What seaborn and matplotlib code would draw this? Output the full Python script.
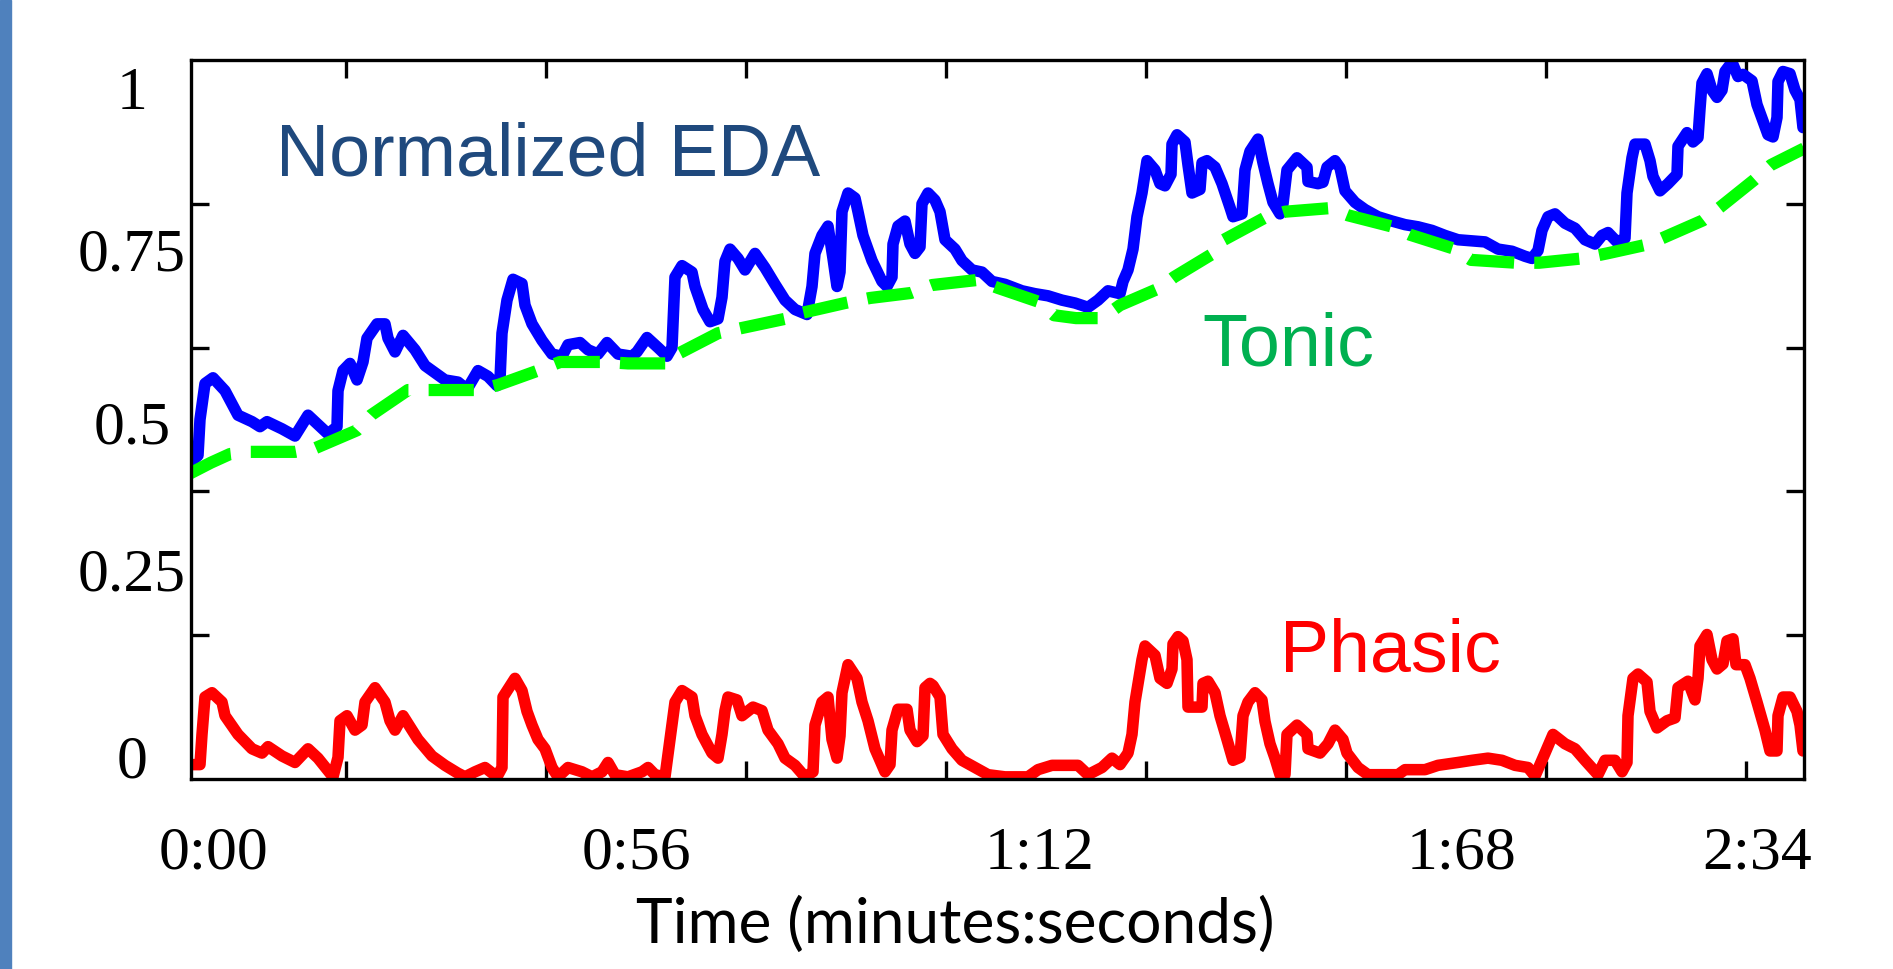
import numpy as np
import pandas as pd
import seaborn as sns
import matplotlib.pyplot as plt
from matplotlib.patches import Rectangle
from matplotlib.ticker import FixedLocator

# Time runs in arbitrary units (one tick mark every 20 units)
eda_t = [-15.6, -14.8, -14.6, -14.1, -13.3, -12.1, -10.8, -9.4, -8.6, -7.9, -6.4, -5.1, -3.8, -2.8, -1.8,
         -0.9, -0.8, -0.3, 0.4, 1.1, 1.7, 2.1, 3.1, 3.9, 4.2, 4.9, 5.7, 6.9, 7.9, 8.9, 9.9, 11.2, 12.1,
         13.2, 14.2, 15.1, 15.4, 15.6, 16.1, 16.7, 17.6, 17.9, 18.6, 19.6, 20.6, 21.6, 22.2, 23.4, 24.2,
         25.2, 26.1, 27.2, 28.6, 29.1, 30.1, 31.2, 32.1, 32.6, 32.9, 33.6, 34.6, 34.9, 35.7, 36.4, 37.2,
         37.6, 37.9, 38.4, 39.2, 39.9, 40.9, 41.9, 42.9, 43.9, 44.9, 46.1, 46.6, 46.9, 47.6, 48.2, 48.7,
         49.1, 49.4, 49.6, 50.2, 50.9, 51.2, 51.7, 52.6, 53.6, 54.1, 54.6, 54.7, 55.2, 55.9, 56.4, 56.9,
         57.4, 57.6, 58.2, 58.9, 59.4, 59.9, 60.9, 61.6, 62.6, 63.6, 64.6, 65.9, 67.6, 68.9, 70.2, 71.6,
         72.9, 74.2, 75.2, 76.2, 77.4, 77.7, 78.2, 78.7, 79.1, 79.6, 80.1, 80.9, 81.4, 81.9, 82.5, 82.6,
         83.1, 83.9, 84.2, 84.6, 85.4, 85.6, 86.1, 86.9, 87.6, 88.4, 88.7, 89.6, 89.9, 90.4, 91.2, 91.7,
         92.2, 92.7, 93.4, 93.7, 94.1, 95.1, 96.1, 96.2, 97.2, 97.7, 98.1, 98.9, 99.4, 99.9, 100.9, 101.9,
         103.2, 104.6, 105.9, 107.2, 108.6, 109.9, 111.2, 113.9, 115.2, 116.6, 117.9, 118.6, 119.2, 119.6,
         120.2, 120.9, 121.9, 122.9, 123.9, 124.9, 125.6, 126.2, 127.1, 127.9, 128.1, 128.6, 128.9, 129.9,
         130.4, 130.7, 131.4, 132.2, 133.1, 133.2, 134.1, 134.7, 135.2, 135.4, 135.6, 136.1, 136.6, 137.1,
         137.6, 137.9, 138.6, 139.2, 139.7, 140.6, 141.1, 141.6, 142.2, 142.7, 143.1, 143.2, 143.7, 144.4,
         144.9, 145.4, 145.7]
eda_v = [0.44, 0.45, 0.50, 0.55, 0.558, 0.54, 0.506, 0.497, 0.49, 0.497, 0.487, 0.477, 0.506, 0.493, 0.48,
         0.49, 0.54, 0.568, 0.578, 0.555, 0.58, 0.613, 0.633, 0.633, 0.613, 0.594, 0.617, 0.597, 0.575,
         0.565, 0.555, 0.552, 0.542, 0.568, 0.56, 0.547, 0.555, 0.62, 0.666, 0.695, 0.689, 0.659, 0.633,
         0.61, 0.591, 0.588, 0.604, 0.607, 0.597, 0.591, 0.607, 0.591, 0.588, 0.594, 0.614, 0.6, 0.588,
         0.6, 0.698, 0.714, 0.705, 0.685, 0.653, 0.636, 0.64, 0.67, 0.72, 0.737, 0.724, 0.708, 0.731,
         0.711, 0.688, 0.666, 0.653, 0.646, 0.685, 0.731, 0.756, 0.769, 0.724, 0.685, 0.705, 0.789, 0.815,
         0.808, 0.789, 0.756, 0.721, 0.692, 0.685, 0.698, 0.744, 0.769, 0.776, 0.744, 0.731, 0.74, 0.80,
         0.815, 0.805, 0.789, 0.75, 0.737, 0.721, 0.708, 0.705, 0.692, 0.688, 0.679, 0.675, 0.672, 0.666,
         0.662, 0.656, 0.666, 0.679, 0.675, 0.692, 0.708, 0.737, 0.782, 0.815, 0.86, 0.847, 0.828, 0.825,
         0.841, 0.883, 0.896, 0.886, 0.854, 0.815, 0.82, 0.857, 0.86, 0.851, 0.828, 0.795, 0.782, 0.786,
         0.847, 0.873, 0.89, 0.857, 0.828, 0.802, 0.786, 0.80, 0.847, 0.864, 0.851, 0.831, 0.828, 0.83,
         0.851, 0.86, 0.85, 0.818, 0.802, 0.792, 0.782, 0.776, 0.771, 0.768, 0.763, 0.756, 0.75, 0.747,
         0.737, 0.734, 0.727, 0.724, 0.735, 0.763, 0.782, 0.786, 0.773, 0.766, 0.75, 0.744, 0.756, 0.76,
         0.747, 0.752, 0.815, 0.864, 0.883, 0.883, 0.86, 0.838, 0.818, 0.828, 0.841, 0.88, 0.899, 0.886,
         0.892, 0.932, 0.968, 0.981, 0.958, 0.948, 0.958, 0.984, 0.997, 0.977, 0.98, 0.971, 0.938, 0.919,
         0.896, 0.893, 0.92, 0.97, 0.984, 0.981, 0.958, 0.945, 0.906]

tonic_t = [-15.6, -13.5, -11.6, -9.7, -5.1, -3.1, 1.1, 2.5, 6.2, 8.7, 13.2, 15.2, 19.4, 21.4, 25.9, 28.2,
           32.6, 33.3, 37.2, 39.5, 43.9, 45.5, 49.9, 52.4, 56.5, 58.6, 63.1, 65.2, 69.2, 70.8, 73.0, 75.6,
           77.4, 81.4, 82.8, 86.6, 87.8, 91.8, 93.9, 98.4, 100.2, 104.7, 106.4, 110.7, 112.5, 117.0, 119.3,
           123.6, 126.1, 130.0, 131.6, 135.7, 137.3, 140.8, 142.5, 145.8]
tonic_v = [0.425, 0.44, 0.452, 0.455, 0.455, 0.46, 0.485, 0.506, 0.541, 0.541, 0.541, 0.548, 0.569, 0.58,
           0.58, 0.578, 0.578, 0.592, 0.62, 0.627, 0.64, 0.648, 0.662, 0.669, 0.676, 0.687, 0.694, 0.683,
           0.664, 0.645, 0.641, 0.641, 0.659, 0.683, 0.698, 0.73, 0.75, 0.78, 0.789, 0.794, 0.784, 0.768,
           0.757, 0.738, 0.722, 0.718, 0.718, 0.724, 0.731, 0.743, 0.752, 0.777, 0.794, 0.833, 0.854, 0.877]

phasic_t = [-15.6, -14.6, -14.4, -14.1, -13.4, -12.4, -12.1, -10.8, -9.4, -8.4, -7.8, -6.4, -5.1, -3.8,
            -2.8, -1.3, -0.8, -0.6, 0.1, 0.9, 1.6, 1.9, 2.9, 3.9, 4.4, 4.9, 5.7, 7.2, 8.6, 9.9, 11.2, 11.9,
            12.9, 13.9, 15.1, 15.6, 15.7, 16.9, 17.6, 18.1, 18.6, 19.2, 19.9, 20.6, 21.2, 22.2, 23.6, 24.6,
            25.6, 26.2, 26.9, 28.2, 29.6, 30.2, 30.9, 31.9, 32.4, 32.9, 33.6, 34.6, 34.9, 35.6, 36.6, 37.2,
            37.6, 37.9, 38.2, 39.1, 39.6, 40.7, 41.6, 42.2, 43.2, 43.9, 44.9, 45.9, 46.7, 46.9, 47.6, 48.2,
            48.6, 49.1, 49.4, 49.6, 50.2, 51.1, 51.6, 52.2, 52.9, 53.9, 54.4, 54.6, 55.2, 56.1, 56.4, 57.1,
            57.7, 57.9, 58.4, 58.7, 59.4, 59.7, 60.6, 61.6, 62.9, 64.2, 65.9, 68.2, 69.2, 70.6, 73.2, 74.2,
            75.6, 76.6, 77.4, 78.2, 78.6, 78.9, 79.6, 79.9, 80.9, 81.4, 82.1, 82.6, 82.7, 83.2, 83.7, 84.1,
            84.2, 85.6, 85.7, 86.2, 86.9, 87.4, 88.1, 88.7, 89.4, 89.7, 90.2, 90.9, 91.6, 91.9, 92.4, 92.9,
            93.4, 93.9, 94.1, 95.1, 96.1, 96.2, 97.4, 98.2, 98.9, 99.7, 100.1, 101.2, 102.2, 105.2, 105.9,
            107.9, 109.2, 111.2, 112.6, 114.2, 115.6, 116.9, 118.2, 118.9, 119.9, 120.7, 121.9, 122.9, 123.9,
            125.2, 125.9, 126.9, 127.6, 128.1, 128.2, 128.7, 129.2, 130.1, 130.4, 131.1, 132.1, 132.9, 133.2,
            134.2, 134.9, 135.2, 135.4, 136.1, 136.6, 137.1, 137.7, 138.1, 138.7, 139.0, 139.9, 140.4, 141.1,
            141.9, 142.4, 143.1, 143.2, 143.7, 144.4, 145.1, 145.4, 145.7]
phasic_v = [0.02, 0.02, 0.062, 0.114, 0.12, 0.107, 0.088, 0.062, 0.042, 0.036, 0.045, 0.032, 0.023, 0.042,
            0.029, 0.003, 0.03, 0.081, 0.088, 0.068, 0.075, 0.107, 0.127, 0.107, 0.081, 0.068, 0.088, 0.055,
            0.032, 0.019, 0.008, 0.003, 0.01, 0.016, 0.003, 0.016, 0.114, 0.14, 0.123, 0.094, 0.075, 0.055,
            0.042, 0.016, 0.003, 0.016, 0.01, 0.003, 0.01, 0.023, 0.006, 0.003, 0.01, 0.016, 0.006, 0.003,
            0.055, 0.107, 0.123, 0.114, 0.088, 0.062, 0.036, 0.029, 0.062, 0.095, 0.114, 0.11, 0.088, 0.1,
            0.095, 0.068, 0.049, 0.029, 0.019, 0.003, 0.01, 0.075, 0.107, 0.114, 0.055, 0.029, 0.06, 0.12,
            0.159, 0.14, 0.107, 0.081, 0.042, 0.01, 0.02, 0.068, 0.097, 0.097, 0.068, 0.052, 0.06, 0.127,
            0.133, 0.13, 0.114, 0.062, 0.042, 0.026, 0.016, 0.006, 0.003, 0.003, 0.013, 0.019, 0.019, 0.006,
            0.016, 0.029, 0.02, 0.036, 0.062, 0.107, 0.166, 0.185, 0.172, 0.14, 0.133, 0.153, 0.188, 0.198,
            0.192, 0.166, 0.1, 0.1, 0.133, 0.136, 0.12, 0.088, 0.055, 0.026, 0.03, 0.088, 0.107, 0.12, 0.11,
            0.08, 0.049, 0.029, 0.006, 0.006, 0.062, 0.075, 0.062, 0.042, 0.036, 0.049, 0.068, 0.055, 0.036,
            0.016, 0.006, 0.006, 0.013, 0.013, 0.019, 0.023, 0.026, 0.029, 0.026, 0.019, 0.016, 0.004, 0.036,
            0.062, 0.049, 0.042, 0.026, 0.006, 0.026, 0.026, 0.01, 0.023, 0.088, 0.14, 0.146, 0.135, 0.094,
            0.071, 0.081, 0.085, 0.127, 0.136, 0.11, 0.14, 0.185, 0.201, 0.166, 0.153, 0.16, 0.192, 0.195,
            0.159, 0.159, 0.14, 0.107, 0.068, 0.039, 0.039, 0.088, 0.114, 0.114, 0.094, 0.075, 0.039]

# tick labels sit a little off the tick marks in the original, so they get their own positions
xlabel_pos = [-13.25, 29.0, 69.3, 111.6, 141.1]
xlabel_text = ["0:00", "0:56", "1:12", "1:68", "2:34"]
ylabel_pos = [0.032, 0.292, 0.496, 0.737, 0.962]
ylabel_text = ["0", "0.25", "0.5", "0.75", "1"]

eda_df = pd.DataFrame({"t": eda_t, "v": eda_v})
tonic_df = pd.DataFrame({"t": tonic_t, "v": tonic_v})
phasic_df = pd.DataFrame({"t": phasic_t, "v": phasic_v})

sns.set_style("white")

fig = plt.figure(figsize=(18.93, 9.69), dpi=100)
ax = fig.add_axes([191 / 1893, 1 - 779 / 969, 1613 / 1893, 719 / 969])

# slide accent bar on the left edge
fig.patches.append(Rectangle((0, 0), 11 / 1893, 1, transform=fig.transFigure,
                             color="#4F81BD", zorder=0))

sns.lineplot(data=eda_df, x="t", y="v", ax=ax, color="#0000FF", linewidth=8.3,
             estimator=None, sort=False, solid_joinstyle="round", solid_capstyle="round")
sns.lineplot(data=phasic_df, x="t", y="v", ax=ax, color="#FF0000", linewidth=8.3,
             estimator=None, sort=False, solid_joinstyle="round", solid_capstyle="round")
sns.lineplot(data=tonic_df, x="t", y="v", ax=ax, color="#00FF00", linewidth=8.8,
             estimator=None, sort=False, linestyle=(0, (3.7, 1.65)), dash_capstyle="butt")

ax.set_xlim(-15.5, 145.8)
ax.set_ylim(0, 1)
ax.set_xlabel("")
ax.set_ylabel("")

# labels (major, no marks) and tick marks (minor, inward, all four sides)
ax.set_xticks(xlabel_pos, xlabel_text, fontfamily="Liberation Serif", fontsize=44.5)
ax.set_yticks(ylabel_pos, ylabel_text, fontfamily="Liberation Serif", fontsize=44.5, ha="center")
ax.xaxis.set_minor_locator(FixedLocator(np.arange(0, 141, 20)))
ax.yaxis.set_minor_locator(FixedLocator([0.2, 0.4, 0.6, 0.8]))
ax.tick_params(which="major", length=0, colors="black")
ax.tick_params(axis="x", which="major", pad=34)
ax.tick_params(axis="y", which="major", pad=42.5)
ax.tick_params(which="minor", direction="in", length=13, width=2.4, color="black",
               top=True, bottom=True, left=True, right=True)

for s in ax.spines.values():
    s.set_visible(True)
    s.set_color("black")
    s.set_linewidth(2.4)

ax.text(-7.0, 0.840, "Normalized EDA", color="#1F497D", fontsize=53,
        fontfamily="Liberation Sans", ha="left", va="baseline")
ax.text(85.66, 0.575, "Tonic", color="#00B050", fontsize=53,
        fontfamily="Liberation Sans", ha="left", va="baseline")
ax.text(93.4, 0.149, "Phasic", color="#FF0000", fontsize=53,
        fontfamily="Liberation Sans", ha="left", va="baseline")

ax.set_xlabel("Time (minutes:seconds)", fontfamily="Lato", fontsize=44.7, color="black")
ax.xaxis.set_label_coords(0.4737, -0.163)

fig.savefig("out.png", dpi=100)
